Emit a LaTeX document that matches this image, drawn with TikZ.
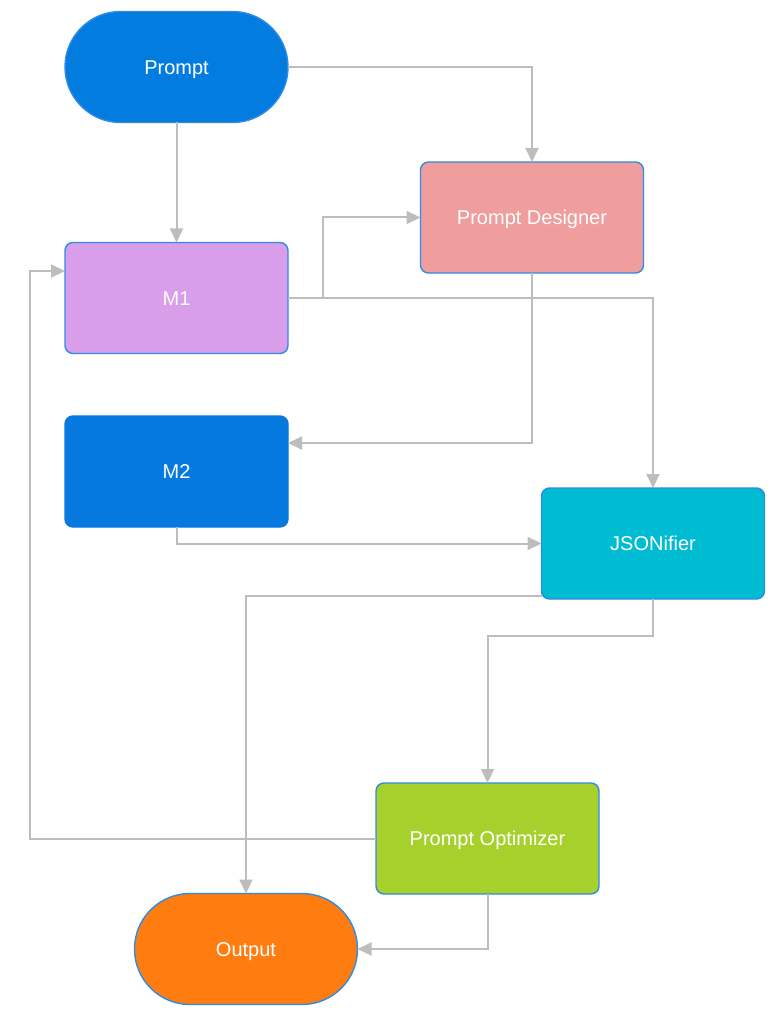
\documentclass[tikz,border=0pt]{standalone}
\usepackage{fontspec}
\setmainfont{Liberation Sans}
\usetikzlibrary{arrows.meta,shapes.misc,calc}
\definecolor{bordc}{HTML}{2E8BE6}
\definecolor{linec}{HTML}{BDBDBD}
\definecolor{cprompt}{HTML}{037CE0}
\definecolor{cdesign}{HTML}{F09D9D}
\definecolor{cmone}{HTML}{D89EEA}
\definecolor{cmtwo}{HTML}{0679DF}
\definecolor{cjson}{HTML}{00BCD2}
\definecolor{copt}{HTML}{A6D12C}
\definecolor{cout}{HTML}{FF7D10}
\begin{document}
\begin{tikzpicture}[x=1pt,y=-1pt,
  base/.style={draw=bordc,line width=1.4pt,inner sep=0pt,outer sep=0pt,
    minimum width=223pt,minimum height=111pt,text=white,
    text height=14.3pt,text depth=0pt,
    font=\fontsize{20}{24}\selectfont},
  procbox/.style={base,rectangle,rounded corners=8pt},
  termbox/.style={base,rounded rectangle},
  conn/.style={draw=linec,line width=2pt,-{Triangle[length=14pt,width=13pt,fill=linec]}}
]
\useasboundingbox (0,0) rectangle (774,1024);
\node[termbox,fill=cprompt] (P) at (176.5,67) {Prompt};
\node[procbox,fill=cdesign] (PD) at (532,217.5) {Prompt Designer};
\node[procbox,fill=cmone] (M1) at (176.5,298) {M1};
\node[procbox,fill=cmtwo,draw=cmtwo] (M2) at (176.5,471.5) {M2};
\node[procbox,fill=cjson] (JS) at (653,543.5) {JSONifier};
\node[procbox,fill=copt] (PO) at (487.5,838.5) {Prompt Optimizer};
\node[termbox,fill=cout] (OUT) at (246,949) {Output};

\draw[conn] (P.east) -| (PD.north);
\draw[conn] (P.south) -- (M1.north);
\draw[conn] (M1.east) -- ++(35,0) |- (PD.west);
\draw[conn] (M1.east) -| (JS.north);
\draw[conn] (PD.south) |- ($(M2.east)+(0,-28.5)$);
\draw[conn] (M2.south) |- (JS.west);
\draw[conn] ($(JS.south west)+(0,-3)$) -| (OUT.north);
\draw[conn] (JS.south) -- ++(0,37) -| (PO.north);
\draw[conn] (PO.west) -- ++(-346.5,0) |- ($(M1.west)+(0,-27)$);
\draw[conn] (PO.south) |- (OUT.east);
\end{tikzpicture}
\end{document}
